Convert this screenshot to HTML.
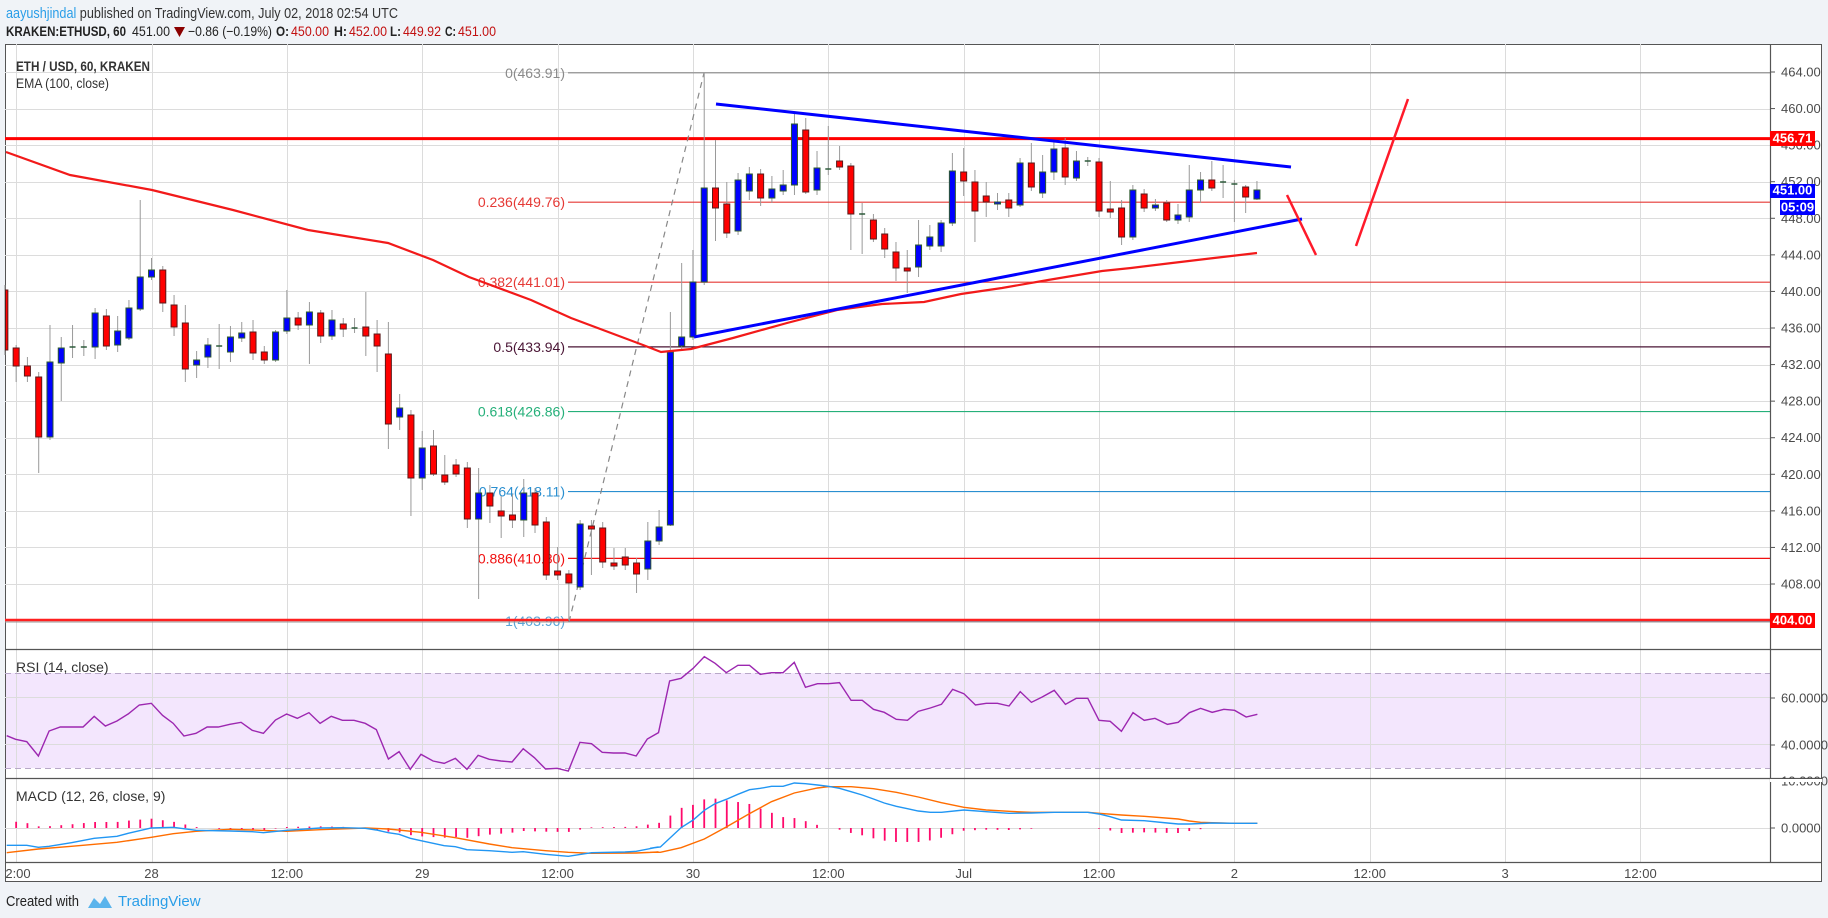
<!DOCTYPE html>
<html><head><meta charset="utf-8"><style>
html,body{margin:0;padding:0;background:#f0f3f7;}
svg{display:block;font-family:"Liberation Sans",sans-serif;}
</style></head><body>
<svg id="s" width="1828" height="918" xmlns="http://www.w3.org/2000/svg">
<rect x="0" y="0" width="1828" height="918" fill="#f0f3f7"/>
<text x="6" y="18" font-size="15" fill="#333" textLength="392" lengthAdjust="spacingAndGlyphs"><tspan fill="#2a9ee8">aayushjindal</tspan> published on TradingView.com, July 02, 2018 02:54 UTC</text>
<g font-size="14" fill="#222">
<text x="6" y="36" font-weight="bold" textLength="120" lengthAdjust="spacingAndGlyphs">KRAKEN:ETHUSD, 60</text>
<text x="132" y="36" textLength="38" lengthAdjust="spacingAndGlyphs">451.00</text>
<polygon points="174,27 185,27 179.5,37" fill="#8b0000"/>
<text x="188" y="36" textLength="84" lengthAdjust="spacingAndGlyphs">−0.86 (−0.19%)</text>
<text x="276" y="36" font-weight="bold" textLength="13" lengthAdjust="spacingAndGlyphs">O:</text><text x="291" y="36" fill="#c21010" textLength="38" lengthAdjust="spacingAndGlyphs">450.00</text>
<text x="334" y="36" font-weight="bold" textLength="13" lengthAdjust="spacingAndGlyphs">H:</text><text x="349" y="36" fill="#c21010" textLength="38" lengthAdjust="spacingAndGlyphs">452.00</text>
<text x="390" y="36" font-weight="bold" textLength="11" lengthAdjust="spacingAndGlyphs">L:</text><text x="403" y="36" fill="#c21010" textLength="38" lengthAdjust="spacingAndGlyphs">449.92</text>
<text x="445" y="36" font-weight="bold" textLength="11" lengthAdjust="spacingAndGlyphs">C:</text><text x="458" y="36" fill="#c21010" textLength="38" lengthAdjust="spacingAndGlyphs">451.00</text>
</g>
<rect x="5.5" y="44.5" width="1816" height="837" fill="#fff" stroke="#555"/>
<rect x="6" y="673" width="1764" height="95" fill="#f3e6fd"/>
<g id="grid" stroke="#dcdcdc" stroke-width="1"></g>
<g id="main"></g>
<g id="lower"></g>
<g stroke="#555" stroke-width="1.2">
<line x1="1770.5" y1="44" x2="1770.5" y2="862"/>
<line x1="5" y1="649.5" x2="1822" y2="649.5"/>
<line x1="5" y1="778.5" x2="1822" y2="778.5"/>
<line x1="5" y1="862.5" x2="1822" y2="862.5"/>
</g>
<g id="axis" font-size="13" fill="#4a4a4a"></g>
<text x="16" y="71" font-size="14" font-weight="bold" fill="#333" textLength="134" lengthAdjust="spacingAndGlyphs">ETH / USD, 60, KRAKEN</text>
<text x="16" y="88" font-size="14" fill="#333" textLength="93" lengthAdjust="spacingAndGlyphs">EMA (100, close)</text>
<text x="16" y="672" font-size="14" fill="#333">RSI (14, close)</text>
<text x="16" y="801" font-size="14" fill="#333">MACD (12, 26, close, 9)</text>
<text x="6" y="906" font-size="15" fill="#222" textLength="73" lengthAdjust="spacingAndGlyphs">Created with</text>
<path d="M88,908 l6,-10 l6,6 l5,-8 l7,12 z" fill="#5ab4ec"/>
<text x="118" y="906" font-size="15" fill="#2a9ee8">TradingView</text>
</svg>
<script>
const NS="http://www.w3.org/2000/svg";
function el(p,t,a,txt){const e=document.createElementNS(NS,t);for(const k in a)e.setAttribute(k,a[k]);if(txt!==undefined)e.textContent=txt;p.appendChild(e);return e;}
const grid=document.getElementById('grid'),main=document.getElementById('main'),low=document.getElementById('lower'),ax=document.getElementById('axis');
const X=i=>151.5+i*11.28;
const Y=p=>72+(464-p)*9.143;
for(let k=-1;k<=11;k++){const x=Math.round(X(k*12))+0.5;el(grid,'line',{x1:x,y1:44,x2:x,y2:862});}
for(let p=408;p<=464;p+=4){const y=Math.round(Y(p))+0.5;el(grid,'line',{x1:5,y1:y,x2:1770,y2:y});}
[697.5,744.5,828.5].forEach(y=>el(grid,'line',{x1:5,y1:y,x2:1770,y2:y}));
el(grid,'line',{x1:5,y1:673.5,x2:1770,y2:673.5,stroke:'#b8a8c8','stroke-dasharray':'6,4'});
el(grid,'line',{x1:5,y1:768.5,x2:1770,y2:768.5,stroke:'#b8a8c8','stroke-dasharray':'6,4'});
const fib=[["0(463.91)",463.91,"#8a8a8a"],["0.236(449.76)",449.76,"#e53935"],["0.382(441.01)",441.01,"#e53935"],["0.5(433.94)",433.94,"#4a1535"],["0.618(426.86)",426.86,"#26b07a"],["0.764(418.11)",418.11,"#2a8fd0"],["0.886(410.80)",410.80,"#f01010"],["1(403.96)",403.96,"#5aa6d8"]];
fib.forEach(f=>{const y=Y(f[1]);el(main,'line',{x1:568,y1:y,x2:1770,y2:y,stroke:f[2],'stroke-width':1.2});
 el(main,'text',{x:565,y:y+5,'text-anchor':'end','font-size':14,fill:f[2]},f[0]);});
el(main,'line',{x1:5,y1:Y(456.71),x2:1770,y2:Y(456.71),stroke:'#ff0000','stroke-width':3});
el(main,'line',{x1:5,y1:620,x2:1770,y2:620,stroke:'#ff2020','stroke-width':2.5});
el(main,'line',{x1:5,y1:622,x2:1770,y2:622,stroke:'#999','stroke-width':1});
el(main,'line',{x1:569,y1:622,x2:704,y2:73,stroke:'#888','stroke-width':1.2,'stroke-dasharray':'6,5'});
const C=[[-13,'d',290,350],[-12,'d',348,366,345,382],[-11,'d',366,376,357,382],[-10,'d',377,437,372,473],[-9,'u',362,437,325,440],[-8,'u',348,363,337,401],[-7,'n',347,347,325,358],[-6,'n',347,348,340,356],[-5,'u',313,347,308,359],[-4,'d',316,346,309,350],[-3,'u',331,345,316,352],[-2,'u',308,338,300,340],[-1,'u',277,309,200,311],[0,'u',270,277,258,280],[1,'d',270,303,266,312],[2,'d',305,327,295,336],[3,'d',323,369,305,382],[4,'u',360,365,351,378],[5,'u',345,357,338,368],[6,'n',346,346,324,369],[7,'u',337,352,326,362],[8,'u',333,338,322,342],[9,'d',332,353,320,360],[10,'d',352,360,346,364],[11,'u',332,360,330,362],[12,'u',318,331,290,334],[13,'d',318,325,312,330],[14,'u',312,325,302,364],[15,'d',313,336,310,343],[16,'u',320,336,310,340],[17,'d',324,329,318,337],[18,'n',328,328,318,333],[19,'d',327,336,292,356],[20,'d',334,346,320,372],[21,'d',354,424,322,449],[22,'u',408,417,394,430],[23,'d',415,478,410,516],[24,'u',448,478,431,490],[25,'d',446,474,430,476],[26,'d',475,482,455,485],[27,'d',465,474,459,477],[28,'d',468,519,462,528],[29,'u',493,519,468,599],[30,'d',493,506,485,523],[31,'d',511,516,496,538],[32,'d',515,520,494,528],[33,'u',493,520,479,537],[34,'d',493,525,488,533],[35,'d',522,575,517,580],[36,'d',571,575,547,580],[37,'d',574,583,570,620],[38,'u',524,587,520,590],[39,'d',526,529,520,575],[40,'d',528,562,522,568],[41,'d',563,566,548,570],[42,'d',557,565,548,570],[43,'d',563,574,558,593],[44,'u',541,569,522,580],[45,'u',527,541,510,545],[46,'u',352,525,312,526],[47,'u',337,346,263,350],[48,'u',282,337,250,340],[49,'u',188,282,73,285],[50,'d',188,208,140,241],[51,'d',204,233,182,238],[52,'u',180,231,173,235],[53,'u',174,191,167,200],[54,'d',174,198,169,206],[55,'u',189,198,176,203],[56,'u',185,191,170,195],[57,'u',124,185,114,195],[58,'d',130,192,118,194],[59,'u',168,190,151,195],[60,'n',169,169,126,175],[61,'d',161,167,146,170],[62,'d',166,214,163,250],[63,'n',214,214,203,254],[64,'d',220,239,214,242],[65,'d',234,249,228,258],[66,'d',252,268,242,281],[67,'d',268,271,250,293],[68,'u',245,267,220,277],[69,'u',237,246,225,250],[70,'u',223,246,220,252],[71,'u',171,223,153,226],[72,'d',172,181,148,196],[73,'d',182,211,170,242],[74,'d',196,202,182,217],[75,'u',202,204,193,210],[76,'d',200,208,193,217],[77,'u',163,205,158,207],[78,'d',163,187,143,191],[79,'u',172,193,155,198],[80,'u',149,172,140,180],[81,'d',148,177,138,185],[82,'u',161,178,151,181],[83,'n',161,161,157,166],[84,'d',162,211,158,217],[85,'d',209,212,181,218],[86,'d',208,237,200,245],[87,'u',190,237,185,240],[88,'d',194,208,189,212],[89,'u',205,208,199,211],[90,'d',203,220,200,222],[91,'u',215,220,204,224],[92,'u',190,217,165,222],[93,'u',180,190,172,203],[94,'d',180,188,161,191],[95,'n',182,182,165,198],[96,'n',184,184,180,222],[97,'d',187,197,185,213],[98,'u',190,199,181,200]];
const cg=el(main,'g',{});
C.forEach(c=>{const x=X(c[0]);const wt=c[4]||c[2]-5,wb=c[5]||c[3]+5;
 el(cg,'line',{x1:x,y1:Math.max(wt,45),x2:x,y2:wb,stroke:'#9a9a9a','stroke-width':1});
 if(c[1]=='n'){el(cg,'line',{x1:x-3,y1:c[2],x2:x+3,y2:c[2],stroke:'#2d5a3a','stroke-width':1.5});return;}
 const u=c[1]=='u';const x0=Math.max(x-3,5.5);
 el(cg,'rect',{x:x0,y:c[2],width:x+3-x0,height:Math.max(c[3]-c[2],1.5),fill:u?'#0000ff':'#ff0000',stroke:u?'#2d5a2d':'#5a1a1a','stroke-width':1});});
const ema=[[6,152],[70,175],[152,190],[233,210],[308,230],[388,243],[433,260],[469,277],[531,300],[571,318],[603,330],[643,345],[661,352],[691,349],[733,338],[787,323],[837,310],[882,304],[924,302],[961,294],[1002,288],[1048,280],[1102,271],[1131,268],[1172,263],[1214,258],[1257,253]];
el(main,'polyline',{points:ema.map(p=>p.join(',')).join(' '),fill:'none',stroke:'#f21a1a','stroke-width':2.2});
el(main,'line',{x1:716,y1:104,x2:1291,y2:167,stroke:'#0000ff','stroke-width':3});
el(main,'line',{x1:694,y1:337,x2:1302,y2:219,stroke:'#0000ff','stroke-width':3});
el(main,'line',{x1:1287,y1:195,x2:1316,y2:255,stroke:'#ff1a2a','stroke-width':2.5});
el(main,'line',{x1:1356,y1:246,x2:1408,y2:99,stroke:'#ff1a2a','stroke-width':2.5});
const r6=[[15,272],[35,283],[60,290],[86,333],[110,258],[135,246],[160,246],[186,246],[211,214],[236,243],[262,228],[287,207],[312,180],[339,175],[364,211],[388,235],[412,273],[439,265],[464,246],[489,246],[515,238],[540,232],[565,256],[590,265],[617,225],[642,207],[666,220],[692,203],[717,235],[742,214],[767,226],[793,226],[818,235],[843,254],[870,342],[894,320],[919,373],[943,328],[970,348],[995,355],[1020,340],[1046,373],[1071,331],[1096,343],[1122,348],[1147,351],[1172,311],[1197,338],[1222,372],[1248,370],[1273,378],[1299,292],[1325,296],[1349,322],[1374,324],[1400,324],[1425,333],[1450,282],[1475,263],[1500,108]];
const r7=[[75,100],[104,70],[131,35],[157,55],[184,83],[212,61],[240,61],[266,88],[293,83],[321,83],[348,52],[375,127],[404,116],[430,116],[457,113],[485,166],[512,166],[539,193],[565,202],[594,223],[621,226],[647,199],[676,189],[703,178],[730,133],[757,146],[785,180],[811,175],[838,175],[866,183],[893,140],[920,172],[946,156],[975,136],[1002,178],[1028,160],[1056,160],[1083,226],[1110,229],[1137,259],[1165,203],[1192,226],[1218,220],[1248,238],[1274,232],[1301,203],[1328,190],[1356,202],[1384,193],[1410,196],[1438,216],[1465,208]];
const A=(a)=>a.map(p=>[p[0]/2.24,645+p[1]/3]);const B=(a)=>a.map(p=>[650+p[0]/2.412,645+p[1]/3]);
const rsi=A(r6).concat(B(r7));
el(low,'polyline',{points:rsi.map(p=>p.join(',')).join(' '),fill:'none',stroke:'#9c27b0','stroke-width':1.4});
const m6=[[15,601],[60,601],[86,607],[110,604],[160,593],[211,580],[262,574],[287,565],[339,549],[388,547],[439,556],[515,558],[565,560],[590,563],[642,556],[717,549],[767,548],[818,550],[843,555],[870,563],[894,568],[919,580],[943,587],[995,602],[1020,605],[1046,614],[1096,617],[1147,622],[1172,620],[1222,628],[1273,634],[1325,623],[1400,621],[1425,619],[1475,606]];
const m7=[[0,610],[25,606],[75,548],[104,525],[131,496],[157,476],[184,463],[212,448],[240,434],[266,430],[293,424],[321,424],[348,414],[375,416],[404,420],[430,424],[457,430],[485,440],[512,450],[539,462],[565,474],[594,484],[621,491],[647,498],[676,502],[703,502],[757,495],[811,500],[866,505],[920,504],[975,502],[1056,502],[1083,507],[1110,515],[1137,525],[1192,527],[1248,534],[1274,537],[1301,537],[1356,534],[1410,535],[1465,535]];
const o6=[[15,623],[86,612],[160,604],[262,592],[339,577],[388,566],[439,559],[515,553],[565,555],[642,559],[717,554],[818,549],[870,552],[943,562],[1020,578],[1096,597],[1147,608],[1222,617],[1273,622],[1325,625],[1425,624],[1475,621]];
const o7=[[0,622],[25,622],[75,608],[131,582],[184,546],[240,506],[293,470],[348,444],[404,429],[430,425],[485,425],[539,431],[594,442],[647,456],[703,473],[757,487],[811,495],[866,499],[920,502],[1056,502],[1083,505],[1137,510],[1192,514],[1274,522],[1301,528],[1328,532],[1356,533],[1410,535],[1465,535]];
const mac=A(m6).concat(B(m7)),sig=A(o6).concat(B(o7));
function interp(a,x){if(x<=a[0][0])return a[0][1];for(let i=1;i<a.length;i++){if(x<=a[i][0]){const t=(x-a[i-1][0])/(a[i][0]-a[i-1][0]);return a[i-1][1]+t*(a[i][1]-a[i-1][1]);}}return a[a.length-1][1];}
for(let i=-12;i<=98;i++){const x=X(i);const d=interp(sig,x)-interp(mac,x);if(Math.abs(d)<0.5)continue;
 el(low,'line',{x1:x,y1:828,x2:x,y2:828-d,stroke:'#ff0a6b','stroke-width':1.8});}
el(low,'polyline',{points:sig.map(p=>p.join(',')).join(' '),fill:'none',stroke:'#ff6d00','stroke-width':1.4});
el(low,'polyline',{points:mac.map(p=>p.join(',')).join(' '),fill:'none',stroke:'#2196f3','stroke-width':1.4});
for(let p=408;p<=464;p+=4){const y=Y(p);el(ax,'line',{x1:1770,y1:y,x2:1775,y2:y,stroke:'#555'});el(ax,'text',{x:1781,y:y+4.5},p.toFixed(2));}
[[698,'60.0000'],[745,'40.0000'],[828,'0.0000'],[781,'10.0000']].forEach(a=>{el(ax,'line',{x1:1770,y1:a[0],x2:1775,y2:a[0],stroke:'#555'});el(ax,'text',{x:1781,y:a[0]+4.5},a[1]);});
el(ax,'rect',{x:1770,y:779,width:52,height:3,fill:'#fff'});
function tag(y,h,x0,col,t){el(ax,'rect',{x:x0,y:y,width:1815-x0,height:h,fill:col});el(ax,'text',{x:(x0+1815)/2,y:y+h-3.5,'text-anchor':'middle',fill:'#fff','font-weight':'bold','font-size':13},t);}
tag(131,15,1770,'#ff0000','456.71');tag(184,14,1770,'#0000ff','451.00');tag(200,15,1780,'#0000ff','05:09');tag(613,15,1770,'#ff0000','404.00');
const tl=['2:00','28','12:00','29','12:00','30','12:00','Jul','12:00','2','12:00','3','12:00'];
tl.forEach((t,k)=>{const x=k==0?18:X((k-1)*12);el(ax,'text',{x:x,y:878,'text-anchor':'middle'},t);});
</script>
</body></html>
